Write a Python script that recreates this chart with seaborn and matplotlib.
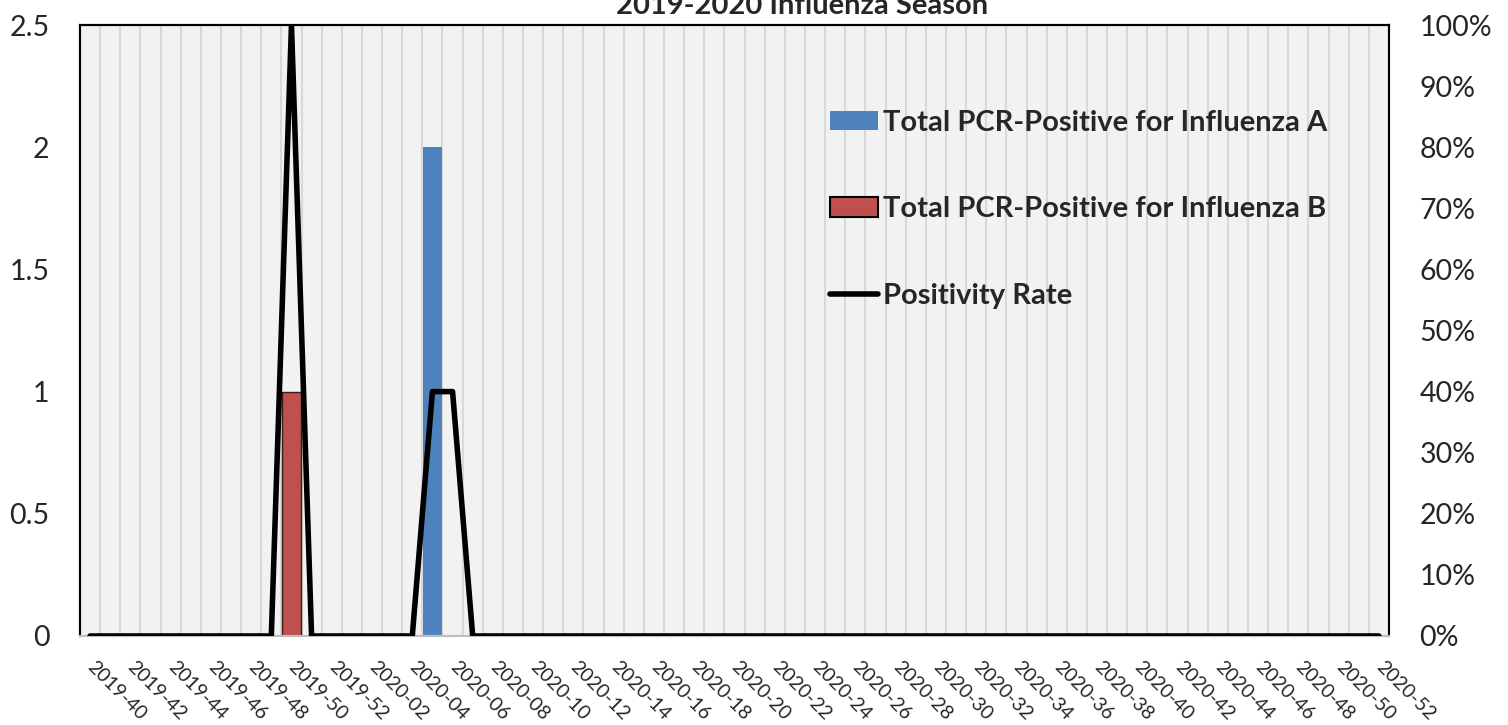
import numpy as np
import pandas as pd
import matplotlib
matplotlib.use("Agg")
import matplotlib.pyplot as plt
import seaborn as sns
from matplotlib.ticker import PercentFormatter, FuncFormatter, FixedLocator
from matplotlib.patches import Patch
from matplotlib.lines import Line2D

# Semanas epidemiológicas 2019-40 .. 2020-52
semanas = [f"2019-{w:02d}" for w in range(40, 53)] + [f"2020-{w:02d}" for w in range(1, 53)]

# Casos positivos por PCR (solo semanas con casos)
casos_a = {"2020-05": 2}
casos_b = {"2019-50": 1}

# Tasa de positividad (%) por semana
positividad = {"2019-50": 1.0, "2020-05": 0.4, "2020-06": 0.4}

influenza_a = [casos_a.get(s, 0) for s in semanas]
influenza_b = [casos_b.get(s, 0) for s in semanas]
tasa = [positividad.get(s, 0.0) for s in semanas]

df = pd.DataFrame({"Semana": semanas, "A": influenza_a, "B": influenza_b, "Tasa": tasa})
df["pos"] = np.arange(len(df))

sns.set_theme(style="white")
plt.rcParams["font.family"] = ["Lato", "DejaVu Sans"]

fig = plt.figure(figsize=(15.08, 7.25), dpi=100)
ax = fig.add_axes([80 / 1508, 89 / 725, 1309 / 1508, 611 / 725])
ax.set_facecolor("#F2F2F2")

azul = "#4F81BD"
rojo = "#C0504D"

sns.barplot(data=df, x="Semana", y="A", order=semanas, color=azul, width=0.97,
            saturation=1, edgecolor="none", linewidth=0, ax=ax, zorder=2)
sns.barplot(data=df, x="Semana", y="B", order=semanas, color=rojo, width=0.97,
            saturation=1, edgecolor="#3a1a1a", linewidth=1, ax=ax, zorder=2)

ax.set_xlim(-0.5, len(semanas) - 0.5)
ax.set_ylim(0, 2.5)
ax.set_yticks(np.arange(0, 2.51, 0.5))
ax.yaxis.set_major_formatter(FuncFormatter(lambda v, p: f"{v:g}"))
ax.set_xlabel("")
ax.set_ylabel("")

# Etiquetas cada dos semanas
ax.set_xticks(df["pos"][::2])
ax.set_xticklabels(semanas[::2], rotation=-45, ha="left", va="center",
                   rotation_mode="anchor", fontsize=14)
ax.xaxis.set_minor_locator(FixedLocator(np.arange(0.5, len(semanas) - 1, 1)))
ax.grid(False)
ax.grid(True, which="minor", axis="x", color="#D9D9D9", linewidth=1.5, zorder=0)
ax.set_axisbelow(True)
ax.tick_params(axis="x", length=0, pad=20)
ax.tick_params(axis="y", length=0, pad=22, labelsize=20.5)

# Eje derecho: tasa de positividad
ax2 = ax.twinx()
sns.lineplot(data=df, x="pos", y="Tasa", color="black", linewidth=4, ax=ax2, zorder=3)
ax2.set_ylim(0, 1)
ax2.set_yticks(np.arange(0, 1.01, 0.1))
ax2.yaxis.set_major_formatter(PercentFormatter(1, decimals=0))
ax2.set_ylabel("")
ax2.set_xlabel("")
ax2.tick_params(axis="y", length=0, pad=22, labelsize=20.5)
ax2.set_xlim(-0.5, len(semanas) - 0.5)

for a in (ax, ax2):
    for lado in ("left", "right", "top"):
        a.spines[lado].set_color("black")
        a.spines[lado].set_linewidth(1.5)
    a.spines["bottom"].set_color("#BFBFBF")
    a.spines["bottom"].set_linewidth(1.5)

handles = [
    Patch(facecolor=azul, edgecolor="none"),
    Patch(facecolor=rojo, edgecolor="black", linewidth=1.5),
    Line2D([0], [0], color="black", linewidth=4, solid_capstyle="round"),
]
labels = ["Total PCR-Positive for Influenza A", "Total PCR-Positive for Influenza B", "Positivity Rate"]
ax2.legend(handles, labels, loc="upper left", bbox_to_anchor=(0.573, 0.861), frameon=False,
           prop={"weight": "bold", "size": 21}, borderpad=0, borderaxespad=0,
           handlelength=1.65, handleheight=0.65, handletextpad=0.17, labelspacing=2.07)

fig.text(0.532, 1 - 14 / 725, "2019-2020 Influenza Season", ha="center", va="baseline",
         fontsize=21, fontweight="bold")

fig.savefig("out.png", dpi=100)
